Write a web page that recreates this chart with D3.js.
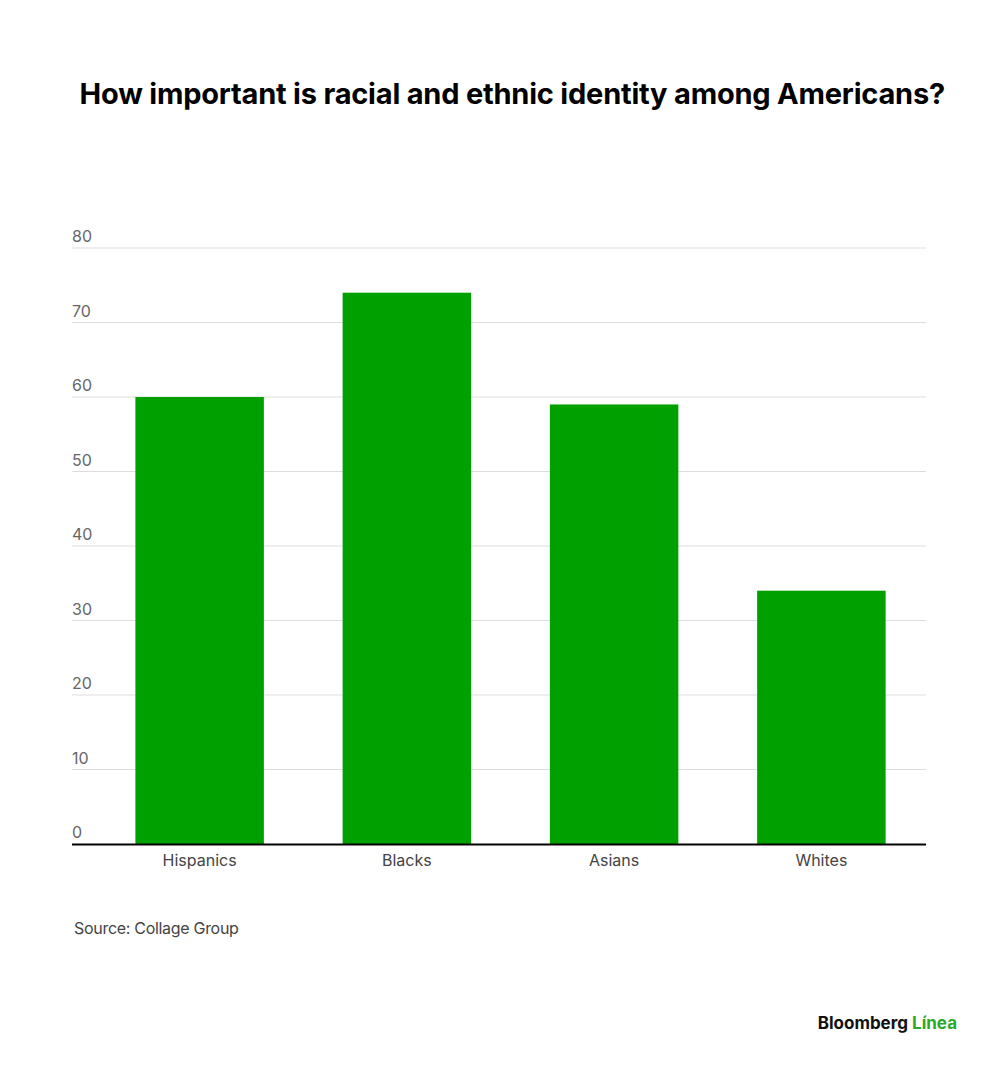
<!DOCTYPE html>
<html><head><meta charset="utf-8">
<script src="https://cdn.jsdelivr.net/npm/d3@7"></script>
<style>body{margin:0;background:#fff}text{font-family:Inter,"Noto Sans",sans-serif}</style>
</head><body>
<svg id="c" width="1000" height="1065"></svg>
<script>
const categories = ["Hispanics","Blacks","Asians","Whites"];
const values = [60,74,59,34];
const ticks = [0,10,20,30,40,50,60,70,80];

const svg = d3.select("#c");
const y = d3.scaleLinear().domain([0,80]).range([844,248]);
const x = d3.scaleBand().domain(categories).range([96,925]).paddingInner(0.38).paddingOuter(0.19);

svg.append("text").attr("x",512).attr("y",104).attr("text-anchor","middle")
  .attr("font-size",29).attr("font-weight",700).attr("letter-spacing",-0.7)
  .attr("textLength",865).attr("lengthAdjust","spacing")
  .text("How important is racial and ethnic identity among Americans?");

const g = svg.append("g");
ticks.forEach(t=>{
  if(t>0) g.append("line").attr("x1",72).attr("x2",926).attr("y1",y(t)).attr("y2",y(t)).attr("stroke","#ddd");
  g.append("text").attr("x",72).attr("y",y(t)-6).attr("font-size",16).attr("fill","#666").text(t);
});
g.selectAll("rect").data(values).join("rect")
  .attr("x",(d,i)=>x(categories[i])).attr("width",x.bandwidth())
  .attr("y",d=>y(d)).attr("height",d=>y(0)-y(d)).attr("fill","#00a000");
g.append("line").attr("x1",72).attr("x2",926).attr("y1",844.5).attr("y2",844.5).attr("stroke","#000").attr("stroke-width",2);
categories.forEach(c=>{
  g.append("text").attr("x",x(c)+x.bandwidth()/2).attr("y",866).attr("text-anchor","middle")
   .attr("font-size",16).attr("fill","#444").text(c);
});
svg.append("text").attr("x",74).attr("y",934).attr("font-size",16).attr("fill","#444").attr("letter-spacing",-0.3).text("Source: Collage Group");
const l = svg.append("text").attr("x",957).attr("y",1029).attr("text-anchor","end").attr("font-size",17).attr("font-weight",700);
l.append("tspan").attr("fill","#111").text("Bloomberg ");
l.append("tspan").attr("fill","#2aa82a").text("Línea");
</script></body></html>
